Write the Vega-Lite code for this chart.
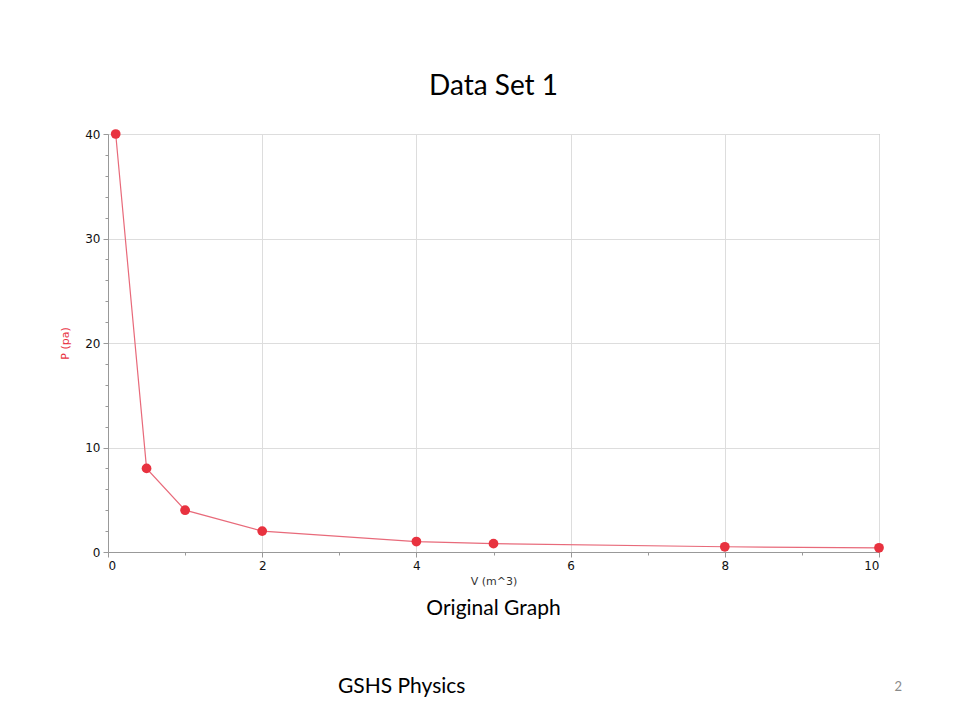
{
  "$schema": "https://vega.github.io/schema/vega-lite/v6.json",
  "width": 771,
  "height": 418,
  "autosize": {"type": "none"},
  "padding": {"left": 108, "top": 134, "right": 81, "bottom": 168},
  "background": "white",
  "title": {"text": "Data Set 1", "font": "Lato", "fontSize": 28, "fontWeight": "normal", "color": "#000000", "offset": 27, "anchor": "middle"},
  "config": {"view": {"stroke": "#a0a0a0", "strokeWidth": 1}},
  "data": {"values": [
    {"V": 0.1, "P": 40},
    {"V": 0.5, "P": 8},
    {"V": 1, "P": 4},
    {"V": 2, "P": 2},
    {"V": 4, "P": 1},
    {"V": 5, "P": 0.8},
    {"V": 8, "P": 0.5},
    {"V": 10, "P": 0.4}
  ]},
  "encoding": {
    "x": {"field": "V", "type": "quantitative",
      "scale": {"domain": [0, 10], "nice": false, "zero": true},
      "axis": {
        "title": "V (m^3)", "titleFont": "DejaVu Sans", "titleFontSize": 11, "titleFontWeight": "normal", "titleColor": "#333333", "titlePadding": 4,
        "values": [0,1,2,3,4,5,6,7,8,9,10],
        "format": "d",
        "labelOverlap": false,
        "labelExpr": "datum.value % 2 == 0 ? datum.label : ''",
        "labelFont": "DejaVu Sans", "labelFontSize": 12, "labelColor": "#111111", "labelPadding": 3,
        "domainColor": "#999999", "tickColor": "#999999",
        "tickSize": {"condition": {"test": "datum.value % 2 == 0", "value": 5}, "value": 3},
        "gridColor": "#dddddd",
        "gridOpacity": {"condition": {"test": "datum.value % 2 == 0", "value": 1}, "value": 0}
      }},
    "y": {"field": "P", "type": "quantitative",
      "scale": {"domain": [0, 40], "nice": false},
      "axis": {
        "title": "P (pa)", "titleFont": "DejaVu Sans", "titleFontSize": 11, "titleFontWeight": "normal", "titleColor": "#e8323f", "titlePadding": 14,
        "values": [0,2,4,6,8,10,12,14,16,18,20,22,24,26,28,30,32,34,36,38,40],
        "format": "d",
        "labelOverlap": false,
        "labelExpr": "datum.value % 10 == 0 ? datum.label : ''",
        "labelFont": "DejaVu Sans", "labelFontSize": 12, "labelColor": "#111111", "labelPadding": 3,
        "domainColor": "#999999", "tickColor": "#999999",
        "tickSize": {"condition": {"test": "datum.value % 10 == 0", "value": 5}, "value": 3},
        "gridColor": "#dddddd",
        "gridOpacity": {"condition": {"test": "datum.value % 10 == 0", "value": 1}, "value": 0}
      }}
  },
  "layer": [
    {"mark": {"type": "line", "color": "#e86a7a", "strokeWidth": 1.2, "clip": false}},
    {"mark": {"type": "circle", "color": "#e8323f", "opacity": 1, "size": 95, "clip": false}},
    {"transform": [{"filter": "datum.V == 10"}],
     "mark": {"type": "text", "font": "Lato", "fontSize": 21, "fontWeight": "normal", "color": "#000000"},
     "encoding": {"x": {"datum": 5, "type": "quantitative"}, "y": {"datum": -5.5, "type": "quantitative"}, "text": {"value": "Original Graph"}}},
    {"transform": [{"filter": "datum.V == 10"}],
     "mark": {"type": "text", "font": "Lato", "fontSize": 21, "fontWeight": "normal", "color": "#000000"},
     "encoding": {"x": {"datum": 3.81, "type": "quantitative"}, "y": {"datum": -12.9, "type": "quantitative"}, "text": {"value": "GSHS Physics"}}},
    {"transform": [{"filter": "datum.V == 10"}],
     "mark": {"type": "text", "font": "Lato", "fontSize": 13, "fontWeight": "normal", "color": "#8a8a8a"},
     "encoding": {"x": {"datum": 10.25, "type": "quantitative"}, "y": {"datum": -12.9, "type": "quantitative"}, "text": {"value": "2"}}}
  ]
}
